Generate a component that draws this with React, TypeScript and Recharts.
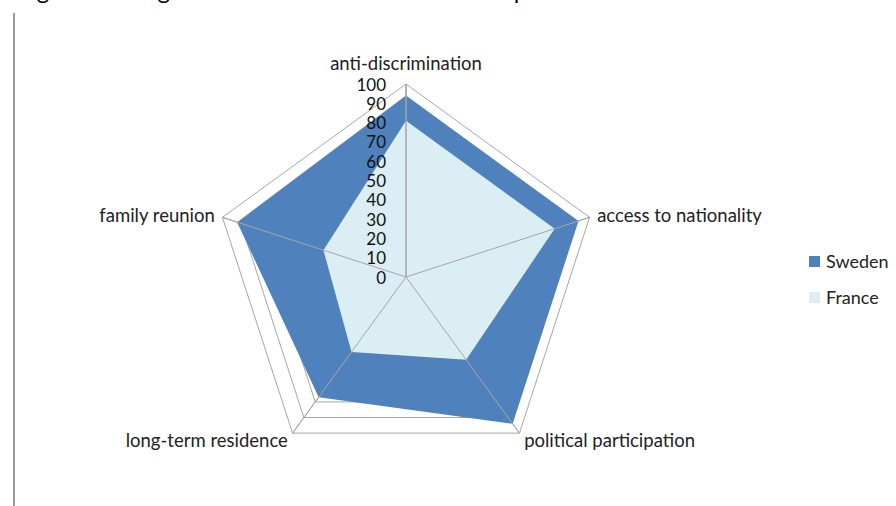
import React from "react";
import {
  RadarChart,
  Radar,
  PolarGrid,
  PolarAngleAxis,
  PolarRadiusAxis,
  Legend,
} from "recharts";

// MIPEX-style policy scores
const policyAreas = [
  "anti-discrimination",
  "access to nationality",
  "political participation",
  "long-term residence",
  "family reunion",
];
const swedenScores = [94, 94, 94, 77, 92];
const franceScores = [81, 81, 53, 48, 45];
const radiusTicks = [0, 10, 20, 30, 40, 50, 60, 70, 80, 90, 100];
const legendOrder = ["Sweden", "France"];

const data = policyAreas.map((area, i) => ({
  area,
  Sweden: swedenScores[i],
  France: franceScores[i],
}));

const FONT = "Lato, 'Open Sans', sans-serif";
const GRID = "#a6a6a6";

const AngleTick = (props: any) => {
  const { x, y, textAnchor, payload, cy } = props;
  const up = textAnchor === "middle" && y < (cy ?? 277);
  return (
    <text
      x={x}
      y={up ? y - 13 : y}
      textAnchor={textAnchor}
      dominantBaseline="central"
      fontSize={18.5}
      fontFamily={FONT}
      fill="#222"
    >
      {payload.value}
    </text>
  );
};

const RadiusTick = (props: any) => {
  const { x, y, payload } = props;
  return (
    <text
      x={x - 20}
      y={y}
      textAnchor="end"
      dominantBaseline="central"
      fontSize={17}
      fontFamily={FONT}
      fill="#111"
    >
      {payload.value}
    </text>
  );
};

const LegendContent = (props: any) => {
  const items = [...(props.payload || [])].sort(
    (a: any, b: any) => legendOrder.indexOf(a.value) - legendOrder.indexOf(b.value)
  );
  return (
    <div style={{ fontFamily: FONT, fontSize: 18, color: "#222" }}>
      {items.map((p: any) => (
        <div
          key={p.value}
          style={{ display: "flex", alignItems: "center", height: 36 }}
        >
          <span
            style={{
              display: "inline-block",
              width: 11,
              height: 11,
              background: p.color,
              marginRight: 6,
            }}
          />
          {p.value}
        </div>
      ))}
    </div>
  );
};

export default function App() {
  return (
    <div
      style={{
        position: "absolute",
        left: 0,
        top: 0,
        width: 896,
        height: 506,
        overflow: "hidden",
        background: "#fff",
      }}
    >
      <div
        style={{
          position: "absolute",
          left: 6,
          top: -25,
          fontFamily: FONT,
          fontSize: 24,
          lineHeight: "30px",
          whiteSpace: "nowrap",
          color: "#000",
        }}
      >
        Degree of Integration – France and Sweden compared
      </div>
      <div
        style={{
          position: "absolute",
          left: 13,
          top: 13,
          width: 2,
          height: 493,
          background: "#9a9a9a",
        }}
      />
      <RadarChart
        width={896}
        height={506}
        data={data}
        cx={406}
        cy={277}
        outerRadius={193}
        style={{ position: "absolute", left: 0, top: 0 }}
      >
        <PolarGrid gridType="polygon" stroke={GRID} />
        <Radar
          name="Sweden"
          dataKey="Sweden"
          stroke="none"
          fill="#4f81bd"
          fillOpacity={1}
          isAnimationActive={false}
        />
        <Radar
          name="France"
          dataKey="France"
          stroke="none"
          fill="#dbeef4"
          fillOpacity={1}
          isAnimationActive={false}
        />
        <PolarGrid
          gridType="polygon"
          polarRadius={[0]}
          stroke={GRID}
          zIndex={600}
        />
        <PolarAngleAxis
          dataKey="area"
          tick={(p: any) => <AngleTick {...p} cy={277} />}
          tickLine={false}
          axisLine={false}
        />
        <PolarRadiusAxis
          angle={90}
          domain={[0, 100]}
          ticks={radiusTicks}
          tickCount={11}
          tick={RadiusTick}
          axisLine={{ stroke: GRID }}
          tickLine={false}
        />
        <Legend
          layout="vertical"
          align="right"
          verticalAlign="middle"
          content={LegendContent}
          wrapperStyle={{ position: "absolute", left: 809, top: 243, width: 90 }}
        />
      </RadarChart>
    </div>
  );
}
